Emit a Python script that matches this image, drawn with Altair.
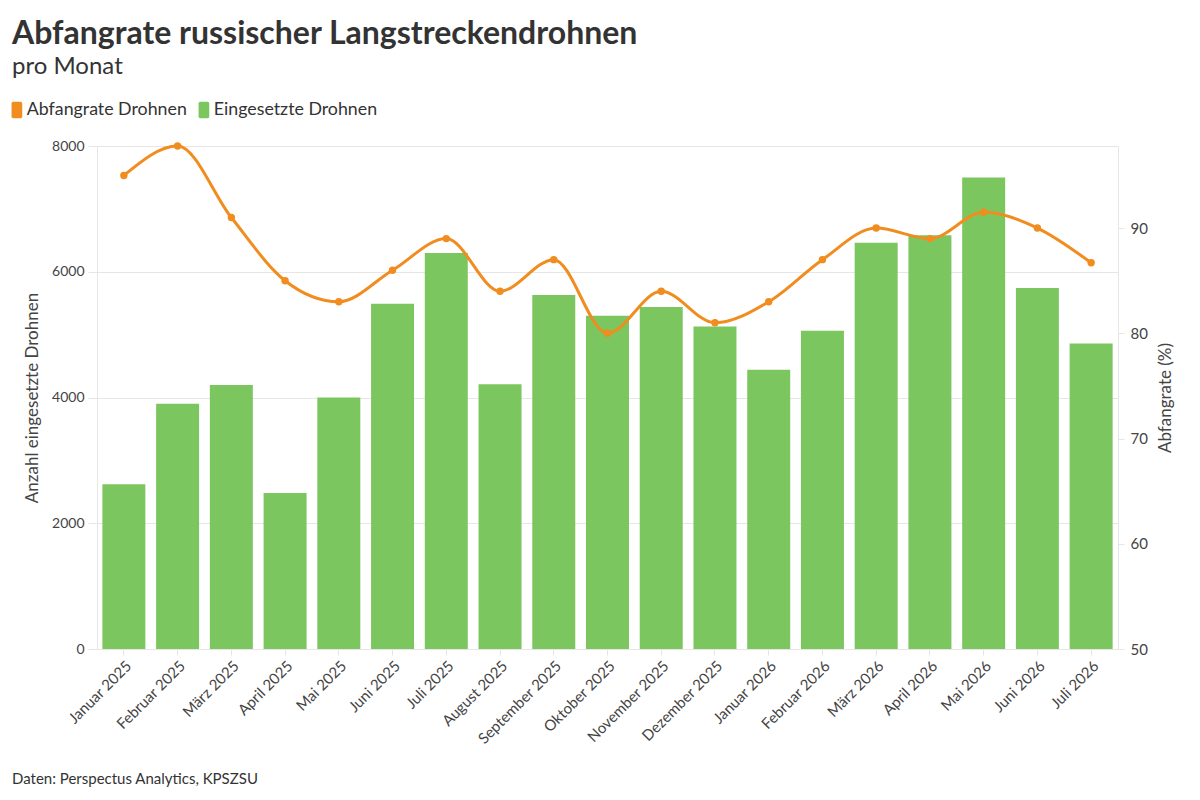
import altair as alt
import pandas as pd

months = ["Januar 2025", "Februar 2025", "März 2025", "April 2025", "Mai 2025",
          "Juni 2025", "Juli 2025", "August 2025", "September 2025", "Oktober 2025",
          "November 2025", "Dezember 2025", "Januar 2026", "Februar 2026", "März 2026",
          "April 2026", "Mai 2026", "Juni 2026", "Juli 2026"]
drones = [2620, 3900, 4200, 2480, 4000, 5490, 6300, 4210, 5630, 5300,
          5440, 5130, 4440, 5060, 6460, 6580, 7500, 5740, 4860]
rate = [95, 97.8, 91, 85, 83, 86, 89, 84, 87, 80,
        84, 81, 83, 87, 90, 89, 91.5, 90, 86.7]
left_ticks = [0, 2000, 4000, 6000, 8000]
right_ticks = [50, 60, 70, 80, 90]
series = ["Abfangrate Drohnen", "Eingesetzte Drohnen"]
source_text = "Daten: Perspectus Analytics, KPSZSU"

df = pd.DataFrame({"Monat": months, "Drohnen": drones, "Rate": rate})
src = pd.DataFrame({"t": [source_text]})

FONT = "Lato"
TEXT = "#333333"
AXT = "#444444"
GRID = "#e6e6e6"
ORANGE = "#f18c1e"
GREEN = "#7cc660"

rr = ("M-0.45,-1 L0.45,-1 Q0.65,-1 0.65,-0.8 L0.65,0.8 Q0.65,1 0.45,1 "
      "L-0.45,1 Q-0.65,1 -0.65,0.8 L-0.65,-0.8 Q-0.65,-1 -0.45,-1 Z")

color_scale = alt.Scale(domain=series, range=[ORANGE, GREEN])
legend = alt.Legend(orient="none", legendX=-89, legendY=-45, direction="horizontal",
                    title=None, symbolType=rr, symbolSize=270, symbolStrokeWidth=0,
                    symbolOpacity=1, labelFont=FONT, labelFontSize=17.8, labelColor=TEXT,
                    labelOffset=1, columnPadding=8, labelLimit=400)
color = alt.Color("Serie:N", scale=color_scale, legend=legend)

x = alt.X("Monat:N", sort=months,
          scale=alt.Scale(paddingInner=0.2, paddingOuter=0.1),
          axis=alt.Axis(title=None, labelAngle=-45, labelFont=FONT, labelFontSize=15,
                        labelColor=AXT, domainColor=GRID, tickColor=GRID, tickSize=6,
                        labelPadding=3))

base = alt.Chart(df)

bars = base.transform_calculate(Serie="'Eingesetzte Drohnen'").mark_bar().encode(
    x=x,
    y=alt.Y("Drohnen:Q", scale=alt.Scale(domain=[0, 8000], nice=False),
            axis=alt.Axis(title="Anzahl eingesetzte Drohnen", values=left_ticks, format="d",
                          grid=True, gridColor=GRID, domainColor=GRID, tickColor=GRID,
                          tickSize=9, labelFont=FONT, labelFontSize=14, labelColor=AXT,
                          labelPadding=4, titleFont=FONT, titleFontSize=17, titleColor=AXT,
                          titleFontWeight="normal", titlePadding=10)),
    color=color,
)

yr = alt.Y("Rate:Q", scale=alt.Scale(domain=[50, 97.8], nice=False, zero=False),
           axis=alt.Axis(orient="right", title="Abfangrate (%)", values=right_ticks, grid=False,
                         domainColor=GRID, tickColor=GRID, tickSize=6,
                         labelFont=FONT, labelFontSize=15, labelColor=AXT, labelPadding=6,
                         titleFont=FONT, titleFontSize=17, titleColor=AXT, titleAngle=270,
                         titleBaseline="top", titleFontWeight="normal", titlePadding=10))

line = base.mark_line(interpolate="monotone", strokeWidth=3, color=ORANGE).encode(x=x, y=yr)
pts = base.transform_calculate(Serie="'Abfangrate Drohnen'").mark_circle(
    size=55, opacity=1).encode(x=x, y=yr, color=color)

rates = alt.layer(line, pts)

source = alt.Chart(src).mark_text(align="left", baseline="alphabetic", font=FONT,
                                  fontSize=15, color=TEXT).encode(
    x=alt.value(-85), y=alt.value(638), text="t:N")

chart = alt.layer(bars, rates, source).resolve_scale(y="independent").properties(
    width=1021, height=503,
    autosize="none",
    padding={"left": 89, "top": 138, "right": 74, "bottom": 140},
    title=alt.TitleParams(text="Abfangrate russischer Langstreckendrohnen",
                          subtitle="pro Monat", anchor="start", frame="group", dx=-85,
                          font=FONT, fontSize=32, fontWeight="bold", color=TEXT,
                          subtitleFont=FONT, subtitleFontSize=24, subtitleColor=TEXT,
                          subtitlePadding=4, offset=21),
).configure_view(stroke=None)

chart.save("out.html", embed_options={"renderer": "svg", "actions": False})
